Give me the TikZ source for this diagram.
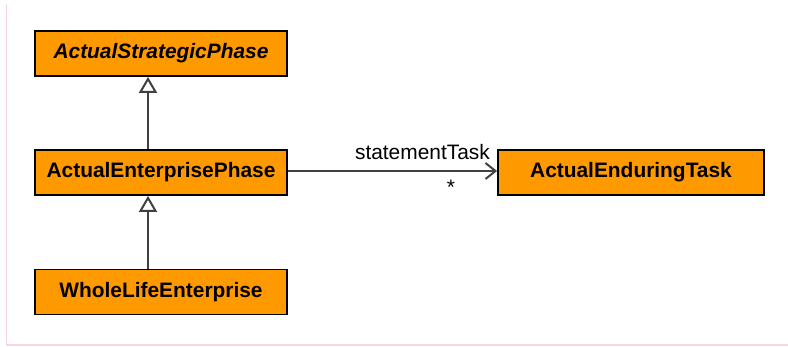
\documentclass[tikz,border=0pt]{standalone}
\usepackage{fontspec}
\setmainfont{Liberation Sans}
\usetikzlibrary{arrows.meta}
\definecolor{umlorange}{RGB}{255,153,0}
\definecolor{umlline}{RGB}{64,64,64}
\definecolor{pagepink}{RGB}{248,214,220}

\begin{document}
\begin{tikzpicture}[x=1pt, y=1pt,
  cls/.style={draw=black, line width=1.8pt, fill=umlorange, inner sep=0pt,
              minimum width=252pt, minimum height=45pt,
              font=\fontsize{20.9}{24}\selectfont\bfseries},
  gen/.style={-{Triangle[open, length=16pt, width=18pt, fill=white]},
              draw=umlline, line width=2pt},
  assoc/.style={-{Straight Barb[length=10pt, width=16pt]},
                draw=umlline, line width=2pt},
  lbl/.style={font=\fontsize{20.9}{24}\selectfont, inner sep=0pt}]
\useasboundingbox (0,0) rectangle (788,-347);
% page edges
\draw[pagepink, line width=1pt] (6,-4) -- (6,-346);
\draw[pagepink, line width=2pt] (6,-345) -- (788,-345);
% classes
\node[cls] (strategic) at (161,-53.5) {\itshape ActualStrategicPhase};
\node[cls] (enterprise) at (161,-172.5) {ActualEnterprisePhase};
\node[cls] (wholelife) at (161,-292) {WholeLifeEnterprise};
\node[cls, minimum width=266pt] (enduring) at (631,-172.5) {ActualEnduringTask};
% relations
\draw[gen] ([xshift=-13pt]enterprise.north) -- ([xshift=-13pt]strategic.south);
\draw[gen] ([xshift=-13pt]wholelife.north) -- ([xshift=-13pt]enterprise.south);
\draw[assoc] ([yshift=1.5pt]enterprise.east) -- ([yshift=1.5pt]enduring.west);
\node[lbl, anchor=south east] (role) at (490,-160) {statementTask};
\node[lbl, anchor=center] (mult) at (451,-187) {*};
\end{tikzpicture}
\end{document}
